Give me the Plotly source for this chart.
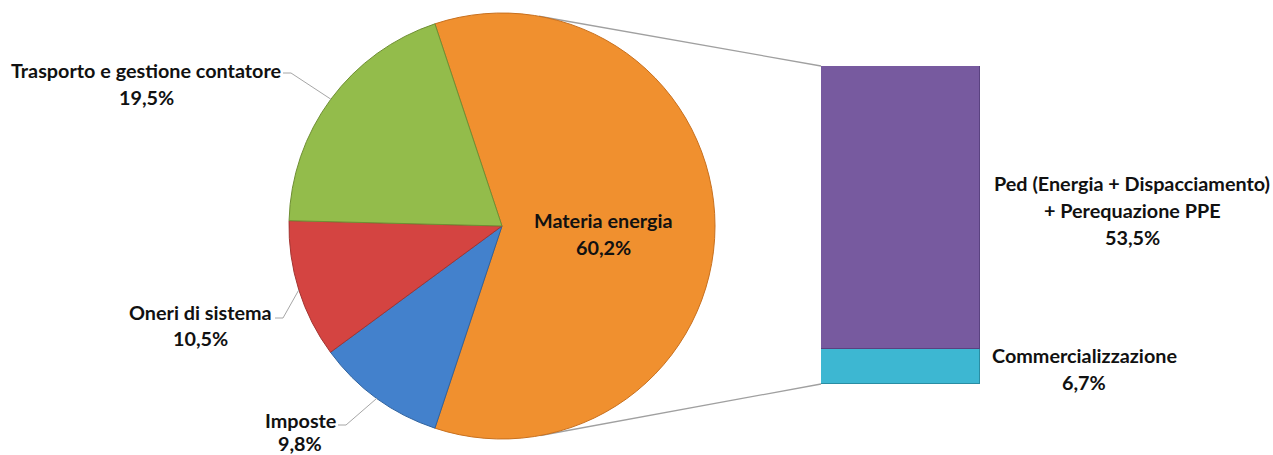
import math
import plotly.graph_objects as go

W, H = 1273, 455

# ---------------- data ----------------
pie_labels = ["Materia energia", "Imposte", "Oneri di sistema", "Trasporto e gestione contatore"]
pie_values = [60.2, 9.8, 10.5, 19.5]
pie_colors = ["#F0902F", "#4381CC", "#D44441", "#93BC4B"]
pie_edge_colors = ["#C8701E", "#2F629E", "#A33431", "#6F8F33"]

bar_labels = ["Commercializzazione", "Ped (Energia + Dispacciamento)<br>+ Perequazione PPE"]
bar_values = [6.7, 53.5]
bar_colors = ["#3DB7D2", "#775A9F"]
bar_edge_colors = ["#2A8DA3", "#5A4280"]


def pct(v):
    return f"{v:.1f}".replace(".", ",") + "%"


# ---------------- layout geometry (pixels) ----------------
PIE_CX, PIE_CY, PIE_R = 502, 226, 213
BAR_X0, BAR_X1, BAR_Y0, BAR_Y1 = 821, 980, 66, 384  # left, right, top, bottom

FONT = dict(family="Lato, 'Open Sans', sans-serif", size=19.8, color="#111111")


def px(x):
    return x / W


def py(y):
    return 1 - y / H


total = sum(pie_values)
split_angle = 360 * pie_values[0] / total
rotation = 90 - split_angle / 2  # split slice centred on the right side

fig = go.Figure()

fig.add_trace(go.Pie(
    labels=pie_labels,
    values=pie_values,
    sort=False,
    direction="clockwise",
    rotation=rotation,
    marker=dict(colors=pie_colors, line=dict(color=pie_edge_colors, width=1)),
    textinfo="none",
    hovertemplate="%{label}: %{value}%<extra></extra>",
    domain=dict(x=[px(PIE_CX - PIE_R), px(PIE_CX + PIE_R)],
                y=[py(PIE_CY + PIE_R), py(PIE_CY - PIE_R)]),
    showlegend=False,
))

for lab, val, col, ecol in zip(bar_labels, bar_values, bar_colors, bar_edge_colors):
    fig.add_trace(go.Bar(
        x=["Materia energia"], y=[val], name=lab,
        marker=dict(color=col, line=dict(color=ecol, width=1)),
        hovertemplate=lab.replace("<br>", " ") + ": %{y}%<extra></extra>",
        showlegend=False,
    ))

# slice mid angles (clockwise from 12 o'clock)
mid_angles = []
acc = rotation
for v in pie_values:
    a = 360 * v / total
    mid_angles.append(acc + a / 2)
    acc += a


def pie_point(angle_deg, r=PIE_R):
    t = math.radians(angle_deg)
    return PIE_CX + r * math.sin(t), PIE_CY - r * math.cos(t)


annotations = []
shapes = []


def add_text(text, x, y):
    annotations.append(dict(text=text, x=px(x), y=py(y), xref="paper", yref="paper",
                            xanchor="center", yanchor="middle", showarrow=False,
                            font=FONT))


# pie labels: (index, name centre, value centre, leader start or None)
pie_label_pos = [
    (0, (603, 220), (603, 247), None),
    (3, (146, 70), (146, 97), (283, 73)),
    (2, (200, 312), (200, 338), (275, 318)),
    (1, (300, 420), (300, 443), (338, 425)),
]
for idx, npos, vpos, lead in pie_label_pos:
    add_text(f"<b>{pie_labels[idx]}</b>", *npos)
    add_text(f"<b>{pct(pie_values[idx])}</b>", *vpos)
    if lead is not None:
        ex, ey = pie_point(mid_angles[idx])
        path = (f"M {px(lead[0])},{py(lead[1])} L {px(lead[0] + 8)},{py(lead[1])} "
                f"L {px(ex)},{py(ey)}")
        shapes.append(dict(type="path", path=path, xref="paper", yref="paper",
                           line=dict(color="#A6A6A6", width=1)))

# bar labels
add_text("<b>Ped (Energia + Dispacciamento)</b>", 1132, 183)
add_text("<b>+ Perequazione PPE</b>", 1132, 210)
add_text(f"<b>{pct(bar_values[1])}</b>", 1132, 237)
add_text(f"<b>{bar_labels[0]}</b>", 1084, 355)
add_text(f"<b>{pct(bar_values[0])}</b>", 1084, 382)


# connector lines: tangents from bar corners to pie circle
def tangent_point(qx, qy, upper):
    dx, dy = qx - PIE_CX, qy - PIE_CY
    d = math.hypot(dx, dy)
    base = math.atan2(dy, dx)
    off = math.acos(PIE_R / d)
    a = base - off if upper else base + off
    return PIE_CX + PIE_R * math.cos(a), PIE_CY + PIE_R * math.sin(a)


for corner, upper in (((BAR_X0, BAR_Y0), True), ((BAR_X0, BAR_Y1), False)):
    tx, ty = tangent_point(corner[0], corner[1], upper)
    shapes.append(dict(type="line", xref="paper", yref="paper",
                       x0=px(tx), y0=py(ty), x1=px(corner[0]), y1=py(corner[1]),
                       line=dict(color="#A0A0A0", width=1.3), layer="below"))

fig.update_layout(
    width=W, height=H, autosize=False,
    margin=dict(l=0, r=0, t=0, b=0),
    paper_bgcolor="white", plot_bgcolor="white",
    barmode="stack", bargap=0,
    xaxis=dict(domain=[px(BAR_X0), px(BAR_X1)], range=[-0.5, 0.5], visible=False,
               fixedrange=True),
    yaxis=dict(domain=[py(BAR_Y1), py(BAR_Y0)], range=[0, sum(bar_values)], visible=False,
               fixedrange=True),
    annotations=annotations,
    shapes=shapes,
)

fig.write_html("out.html", config={"displayModeBar": False},
               post_script="document.body.style.margin='0';document.body.style.overflow='hidden';")
